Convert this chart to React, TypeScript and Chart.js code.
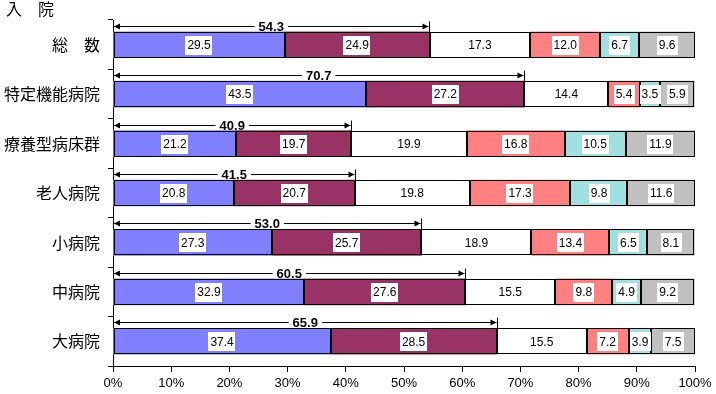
import React, { useEffect, useRef } from 'react';
import { Chart, registerables } from 'chart.js';

Chart.register(...registerables);

const title = '入　院';
const categories = ['総　数', '特定機能病院', '療養型病床群', '老人病院', '小病院', '中病院', '大病院'];
const seriesBlue = [29.5, 43.5, 21.2, 20.8, 27.3, 32.9, 37.4];
const seriesMaroon = [24.9, 27.2, 19.7, 20.7, 25.7, 27.6, 28.5];
const seriesWhite = [17.3, 14.4, 19.9, 19.8, 18.9, 15.5, 15.5];
const seriesSalmon = [12.0, 5.4, 16.8, 17.3, 13.4, 9.8, 7.2];
const seriesCyan = [6.7, 3.5, 10.5, 9.8, 6.5, 4.9, 3.9];
const seriesGray = [9.6, 5.9, 11.9, 11.6, 8.1, 9.2, 7.5];
const totals = [54.3, 70.7, 40.9, 41.5, 53.0, 60.5, 65.9];

const seriesList = [seriesBlue, seriesMaroon, seriesWhite, seriesSalmon, seriesCyan, seriesGray];
const colors = ['#8080FF', '#993366', '#FFFFFF', '#FF8080', '#A0E0E0', '#C0C0C0'];

const NUM_FONT = '"Liberation Sans Narrow", "Liberation Sans", Arial, sans-serif';
const JP_FONT = '"Noto Sans CJK JP", "Noto Sans", sans-serif';

const overlayPlugin = {
  id: 'overlay',
  afterDatasetsDraw(chart: any) {
    const ctx = chart.ctx;
    const xs = chart.scales.x;
    ctx.save();
    // crisp outlines
    ctx.strokeStyle = '#000';
    ctx.lineWidth = 1;
    chart.data.datasets.forEach((ds: any, di: number) => {
      const meta = chart.getDatasetMeta(di);
      meta.data.forEach((el: any) => {
        const l = Math.round(Math.min(el.base, el.x));
        const r = Math.round(Math.max(el.base, el.x));
        const t = Math.round(el.y - el.height / 2);
        const b = Math.round(el.y + el.height / 2);
        ctx.strokeRect(l + 0.5, t + 0.5, r - l - 1, b - t - 1);
      });
    });
    // segment labels
    ctx.font = '12px ' + NUM_FONT;
    ctx.textAlign = 'center';
    ctx.textBaseline = 'middle';
    chart.data.datasets.forEach((ds: any, di: number) => {
      const meta = chart.getDatasetMeta(di);
      meta.data.forEach((el: any, i: number) => {
        const txt = ds.data[i].toFixed(1);
        const cx = (el.x + el.base) / 2;
        const cy = el.y;
        const w = ctx.measureText(txt).width;
        if (di !== 2) {
          ctx.fillStyle = '#FFFFFF';
          ctx.fillRect(Math.round(cx - w / 2 - 2), Math.round(cy - 9), Math.round(w + 4), 19);
        }
        ctx.fillStyle = '#000000';
        ctx.fillText(txt, cx, cy + 1);
      });
    });
    // arrows with totals
    const meta0 = chart.getDatasetMeta(0);
    ctx.strokeStyle = '#000';
    ctx.fillStyle = '#000';
    ctx.lineWidth = 1;
    meta0.data.forEach((el: any, i: number) => {
      const top = Math.round(el.y - el.height / 2);
      const ay = top - 6 + 0.5;
      const x0 = xs.getPixelForValue(0);
      const x1 = Math.round(xs.getPixelForValue(totals[i])) + 0.5;
      ctx.beginPath();
      ctx.moveTo(x0 + 1, ay);
      ctx.lineTo(x1 - 1, ay);
      ctx.stroke();
      ctx.beginPath();
      ctx.moveTo(x0 + 1, ay);
      ctx.lineTo(x0 + 7, ay - 3);
      ctx.lineTo(x0 + 7, ay + 3);
      ctx.closePath();
      ctx.fill();
      ctx.beginPath();
      ctx.moveTo(x1 - 1, ay);
      ctx.lineTo(x1 - 7, ay - 3);
      ctx.lineTo(x1 - 7, ay + 3);
      ctx.closePath();
      ctx.fill();
      ctx.beginPath();
      ctx.moveTo(x1, ay - 5);
      ctx.lineTo(x1, top);
      ctx.stroke();
      ctx.font = 'bold 13px "Liberation Sans", Arial, sans-serif';
      const txt = totals[i].toFixed(1);
      const w = ctx.measureText(txt).width;
      const cx = (x0 + x1) / 2;
      ctx.fillStyle = '#FFFFFF';
      ctx.fillRect(cx - w / 2 - 4, ay - 4, w + 8, 8);
      ctx.fillStyle = '#000';
      ctx.fillText(txt, cx, ay + 1);
    });
    // title
    ctx.font = '16px ' + JP_FONT;
    ctx.textAlign = 'left';
    ctx.textBaseline = 'top';
    ctx.fillText(title, 6, 1);
    ctx.restore();
  },
};

export default function App() {
  const ref = useRef<HTMLCanvasElement>(null);
  useEffect(() => {
    if (!ref.current) return;
    const chart = new Chart(ref.current, {
      type: 'bar',
      data: {
        labels: categories,
        datasets: seriesList.map((s, i) => ({
          data: s,
          backgroundColor: colors[i],
          borderWidth: 0,
          barThickness: 26,
        })),
      },
      options: {
        indexAxis: 'y',
        animation: false,
        responsive: false,
        events: [],
        layout: { padding: { top: 20, right: 21, left: 0, bottom: 0 } },
        plugins: { legend: { display: false }, tooltip: { enabled: false } },
        scales: {
          x: {
            stacked: true,
            min: 0,
            max: 100,
            afterFit: (s: any) => { s.height = 28; },
            ticks: {
              stepSize: 10,
              callback: (v: any) => v + '%',
              color: '#000',
              padding: 4,
              font: { size: 13, family: NUM_FONT },
            },
            grid: { drawOnChartArea: false, tickLength: 6, color: '#000' },
            border: { color: '#000' },
          },
          y: {
            stacked: true,
            afterFit: (s: any) => { s.width = 113; },
            ticks: {
              color: '#000',
              padding: 8,
              font: { size: 16, family: JP_FONT },
            },
            grid: { offset: true, drawOnChartArea: false, tickLength: 5, color: '#000' },
            border: { color: '#000' },
          },
        },
      },
      plugins: [overlayPlugin],
    });
    return () => chart.destroy();
  }, []);
  return (
    <div style={{ position: 'absolute', left: 0, top: 0, width: 716, height: 394, background: '#fff' }}>
      <canvas ref={ref} width={716} height={394} style={{ display: 'block' }} />
    </div>
  );
}
